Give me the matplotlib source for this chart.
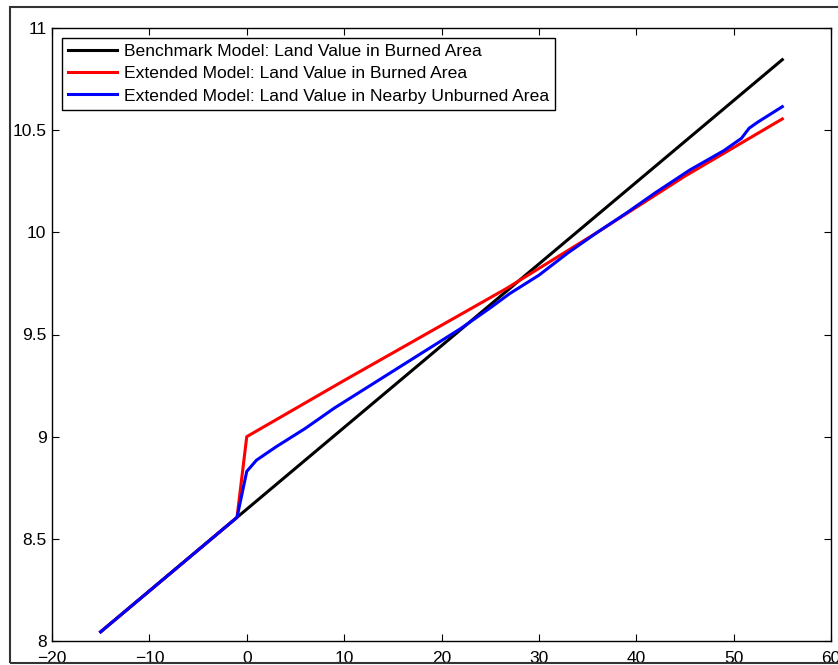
import numpy as np
import matplotlib.pyplot as plt
from matplotlib.patches import Rectangle

plt.rcParams['font.family'] = ['Liberation Sans', 'DejaVu Sans']

# benchmark model, burned area (straight line)
bench_x = [-15, 55]
bench_y = [8.045, 10.845]

# extended model, burned area
red_x = [-15, -1, 0, 10, 20, 26.7, 36, 45, 55]
red_y = [8.045, 8.605, 9.0, 9.275, 9.545, 9.726, 10.0, 10.275, 10.555]

# extended model, nearby unburned area
blue_x = [-15, -1, 0, 1, 3, 6, 9, 13, 16, 19, 22, 25, 27, 30, 33, 36, 39, 42,
          45.5, 49, 50.8, 51.6, 52.5, 53.5, 55]
blue_y = [8.045, 8.605, 8.83, 8.885, 8.95, 9.04, 9.14, 9.26, 9.35, 9.44, 9.53,
          9.63, 9.70, 9.79, 9.90, 10.0, 10.095, 10.195, 10.305, 10.40, 10.46,
          10.51, 10.54, 10.57, 10.615]

labels = ['Benchmark Model: Land Value in Burned Area',
          'Extended Model: Land Value in Burned Area',
          'Extended Model: Land Value in Nearby Unburned Area']

xticks = list(range(-20, 61, 10))
yticks = [8, 8.5, 9, 9.5, 10, 10.5, 11]
yticklabels = ['8', '8.5', '9', '9.5', '10', '10.5', '11']

fig = plt.figure(figsize=(8.38, 6.65), dpi=100)
ax = fig.add_axes([52/838, 24/665, 779/838, 613/665])

ax.plot(bench_x, bench_y, color='black', lw=2.2, label=labels[0])
ax.plot(red_x, red_y, color='red', lw=2.2, label=labels[1])
ax.plot(blue_x, blue_y, color='blue', lw=2.2, label=labels[2])

ax.set_xlim(-20, 60)
ax.set_ylim(8, 11)
ax.set_xticks(xticks)
ax.set_xticklabels(['\u2212%d' % -t if t < 0 else str(t) for t in xticks])
ax.set_yticks(yticks)
ax.set_yticklabels(yticklabels)
ax.tick_params(direction='in', top=True, right=True, length=5, width=0.8,
               labelsize=12.5, colors='black')
ax.tick_params(axis='x', pad=7)
ax.tick_params(axis='y', pad=4)
for s in ax.spines.values():
    s.set_linewidth(1.0)

leg = ax.legend(loc='upper left', fontsize=12.6, frameon=True, fancybox=False,
                edgecolor='black', framealpha=1, handlelength=2.8,
                handletextpad=0.4, borderpad=0.35, labelspacing=0.4,
                borderaxespad=0.55)
leg.get_frame().set_linewidth(1.0)

# outer page frame
fig.patches.append(Rectangle((10/838, 2/665), 1.0, 656/665, transform=fig.transFigure,
                             fill=False, edgecolor='#333333', lw=1.5))

fig.savefig('out.png', dpi=100)
